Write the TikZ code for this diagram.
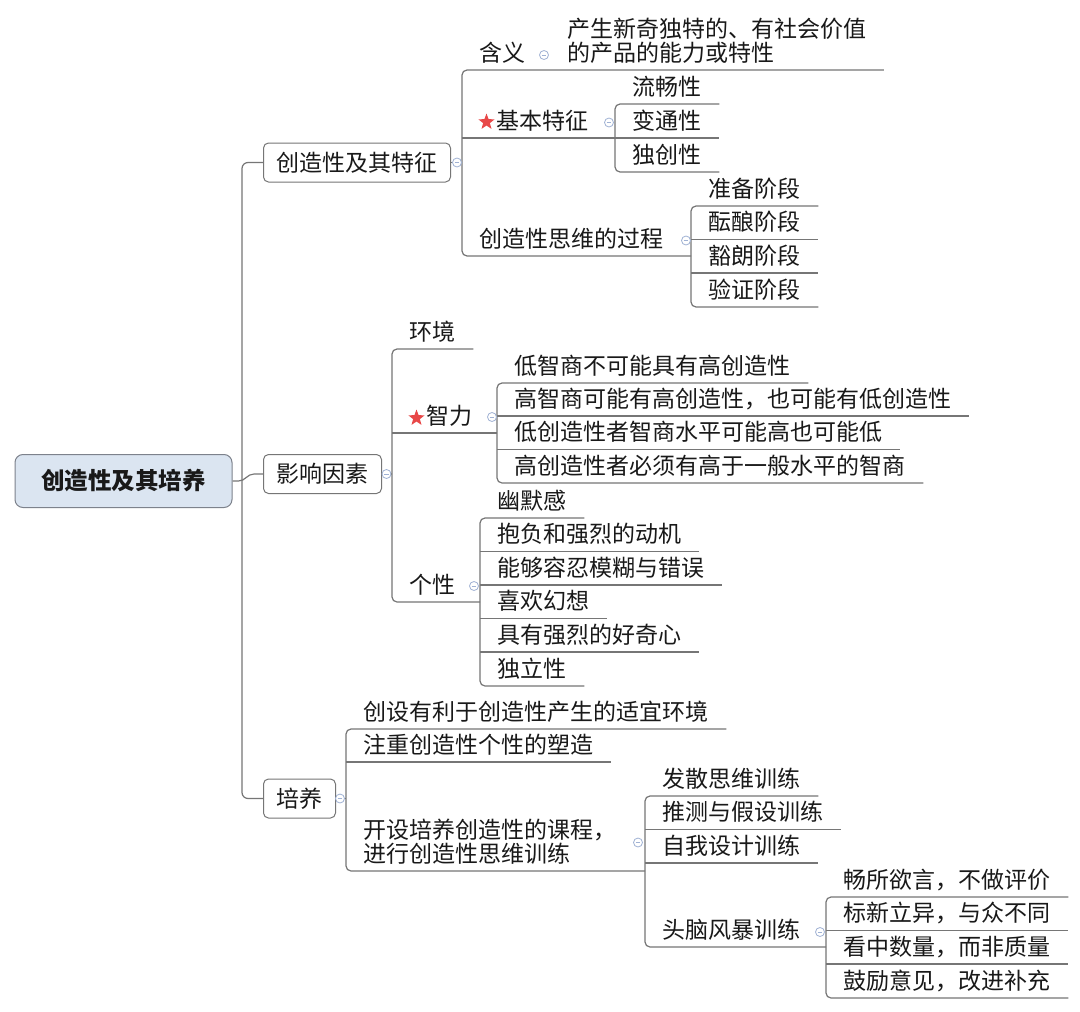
\documentclass[tikz,border=0pt]{standalone}
\usepackage{fontspec}
\newfontfamily\cjk{Noto Sans CJK SC}
\usetikzlibrary{shapes.geometric}
\definecolor{lineC}{RGB}{118,118,118}
\definecolor{txtC}{RGB}{25,25,25}
\definecolor{rootFill}{RGB}{219,229,241}
\definecolor{rootLine}{RGB}{125,130,140}
\definecolor{mkC}{RGB}{160,178,212}
\definecolor{starC}{RGB}{232,72,72}
\begin{document}
\begin{tikzpicture}[x=1pt,y=-1pt,
  conn/.style={draw=lineC, line width=1.2pt},
  rc/.style={rounded corners=5pt},
  topic/.style={anchor=south west, inner xsep=17.5pt, inner ysep=0pt, text height=20pt, text depth=8.8pt, font=\cjk\fontsize{23}{24}\selectfont, text=txtC},
  mtopic/.style={topic, align=left},
  lonebox/.style={draw=lineC, line width=1pt, rounded corners=5pt, fill=white, inner xsep=13pt, inner ysep=0pt, minimum height=39pt, anchor=west, font=\cjk\fontsize{23}{24}\selectfont, text=txtC},
  rootbox/.style={draw=rootLine, line width=1pt, fill=rootFill, rounded corners=8pt, minimum width=217pt, minimum height=53pt, inner sep=0pt, font=\cjk\bfseries\fontsize{23.5}{24}\selectfont, text=txtC},
  marker/.style={circle, draw=mkC, line width=0.8pt, fill=white, minimum size=9pt, inner sep=0pt,
    path picture={\draw[mkC, line width=0.8pt] ([xshift=-2.4pt]path picture bounding box.center) -- ([xshift=2.4pt]path picture bounding box.center);}},
  starmark/.style={star, star points=5, star point ratio=2.4, fill=starC, inner sep=0pt, minimum size=17pt},
]
\fill[white] (0,0) rectangle (1080,1012);
\useasboundingbox (0,0) rectangle (1080,1012);

% ---------- root and first level ----------
\node[rootbox] (root) at (123.5,481) {创造性及其培养};
\node[lonebox] (A) at (263,162.5) {创造性及其特征};
\node[lonebox] (B) at (263,474) {影响因素};
\node[lonebox] (C) at (263,798.5) {培养};
\coordinate (trunk) at (242,0);

% ---------- group A ----------
\node[topic] (a1) at (462,70) {含义};
\node[mtopic] (a1c) at (549.5,70) {产生新奇独特的、有社会价值\\的产品的能力或特性};
\node[topic] (a2) at (462,138) {\hspace*{17pt}基本特征};
\node[starmark] (a2s) at (486.5,122) {};
\node[topic] (a21) at (615,104) {流畅性};
\node[topic] (a22) at (615,138) {变通性};
\node[topic] (a23) at (615,172) {独创性};
\node[topic] (a3) at (462,256) {创造性思维的过程};
\node[topic] (a31) at (691,206) {准备阶段};
\node[topic] (a32) at (691,239.5) {酝酿阶段};
\node[topic] (a33) at (691,273) {豁朗阶段};
\node[topic] (a34) at (691,307) {验证阶段};

% ---------- group B ----------
\node[topic] (b1) at (392,349) {环境};
\node[topic] (b2) at (392,433) {\hspace*{17pt}智力};
\node[starmark] (b2s) at (416.5,418) {};
\node[topic] (b21) at (497,383) {低智商不可能具有高创造性};
\node[topic] (b22) at (497,416) {高智商可能有高创造性，也可能有低创造性};
\node[topic] (b23) at (497,449.5) {低创造性者智商水平可能高也可能低};
\node[topic] (b24) at (497,483) {高创造性者必须有高于一般水平的智商};
\node[topic] (b3) at (392,602) {个性};
\node[topic] (b31) at (480,518) {幽默感};
\node[topic] (b32) at (480,551.5) {抱负和强烈的动机};
\node[topic] (b33) at (480,585) {能够容忍模糊与错误};
\node[topic] (b34) at (480,618.5) {喜欢幻想};
\node[topic] (b35) at (480,652) {具有强烈的好奇心};
\node[topic] (b36) at (480,686) {独立性};

% ---------- group C ----------
\node[topic] (c1) at (346,729) {创设有利于创造性产生的适宜环境};
\node[topic] (c2) at (346,762) {注重创造性个性的塑造};
\node[mtopic] (c3) at (346,871) {开设培养创造性的课程，\\进行创造性思维训练};
\node[topic] (c31) at (645,796) {发散思维训练};
\node[topic] (c32) at (645,829.5) {推测与假设训练};
\node[topic] (c33) at (645,863) {自我设计训练};
\node[topic] (c34) at (645,947) {头脑风暴训练};
\node[topic] (c341) at (826,897) {畅所欲言，不做评价};
\node[topic] (c342) at (826,930.5) {标新立异，与众不同};
\node[topic] (c343) at (826,964) {看中数量，而非质量};
\node[topic] (c344) at (826,998) {鼓励意见，改进补充};

% ---------- connectors: first level ----------
\draw[conn, rounded corners=6pt] (A.west) -- (A.west -| trunk) -- (C.west -| trunk) -- (C.west);
\draw[conn] (root.east) -- ++(6,0) .. controls +(7,0) and +(-7,0) .. ([xshift=-9pt]B.west) -- (B.west);

% group A
\draw[conn] (A.east) -- (A.east -| a1.south west);
\draw[conn, rc] (a1c.south east) -- (a1.south west) -- (a3.south west) -- (a3.south west -| a31.south west);
\draw[conn] (a2.south west) -- (a2.south west -| a21.south west);
\draw[conn, rc] (a21.south east) -- (a21.south west) -- (a23.south west) -- (a23.south east);
\draw[conn] (a22.south west) -- (a22.south east);
\draw[conn, rc] (a31.south east) -- (a31.south west) -- (a34.south west) -- (a34.south east);
\draw[conn] (a32.south west) -- (a32.south east);
\draw[conn] (a33.south west) -- (a33.south east);

% group B
\draw[conn] (B.east) -- (B.east -| b1.south west);
\draw[conn, rc] (b1.south east) -- (b1.south west) -- (b3.south west) -- (b3.south west -| b31.south west);
\draw[conn] (b2.south west) -- (b2.south west -| b21.south west);
\draw[conn, rc] (b21.south east) -- (b21.south west) -- (b24.south west) -- (b24.south east);
\draw[conn] (b22.south west) -- (b22.south east);
\draw[conn] (b23.south west) -- (b23.south east);
\draw[conn, rc] (b31.south east) -- (b31.south west) -- (b36.south west) -- (b36.south east);
\draw[conn] (b32.south west) -- (b32.south east);
\draw[conn] (b33.south west) -- (b33.south east);
\draw[conn] (b34.south west) -- (b34.south east);
\draw[conn] (b35.south west) -- (b35.south east);

% group C
\draw[conn] (C.east) -- (C.east -| c1.south west);
\draw[conn, rc] (c1.south east) -- (c1.south west) -- (c3.south west) -- (c3.south west -| c31.south west);
\draw[conn] (c2.south west) -- (c2.south east);
\draw[conn, rc] (c31.south east) -- (c31.south west) -- (c34.south west) -- (c34.south west -| c341.south west);
\draw[conn] (c32.south west) -- (c32.south east);
\draw[conn] (c33.south west) -- (c33.south east);
\draw[conn, rc] (c341.south east) -- (c341.south west) -- (c344.south west) -- (c344.south east);
\draw[conn] (c342.south west) -- (c342.south east);
\draw[conn] (c343.south west) -- (c343.south east);

% ---------- collapse markers ----------
\node[marker] (mA) at (457,162.5) {};
\node[marker] (mB) at (386.5,474) {};
\node[marker] (mC) at (340,798.5) {};
\node[marker] (ma1) at (544,55) {};
\node[marker] (ma2) at (609,122.5) {};
\node[marker] (ma3) at (686,240.5) {};
\node[marker] (mb2) at (492,417) {};
\node[marker] (mb3) at (474,586) {};
\node[marker] (mc3) at (638,842.5) {};
\node[marker] (mc34) at (820,932) {};
\end{tikzpicture}
\end{document}
